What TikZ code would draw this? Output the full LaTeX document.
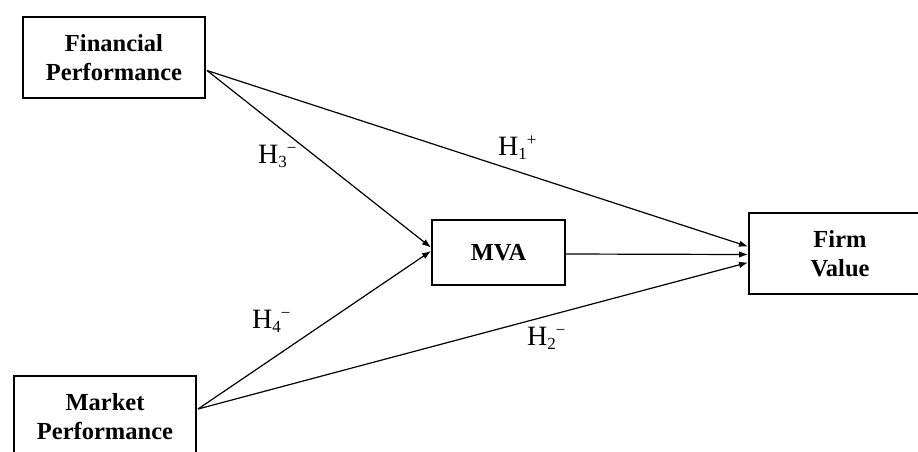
\documentclass[tikz,border=0pt]{standalone}
\usepackage{fontspec}
\setmainfont{Liberation Serif}
\usetikzlibrary{arrows.meta,calc}
\newcommand{\hyp}[2]{H{\fontsize{17}{17}\selectfont\raisebox{-4pt}{#1}\raisebox{10pt}{#2}}}
\begin{document}
\begin{tikzpicture}[x=1pt,y=-1pt,
  box/.style={draw,line width=2pt,align=center,font=\fontsize{24.5}{29}\selectfont\bfseries,inner sep=0pt},
  conn/.style={line width=1.2pt,-{Latex[length=9pt,width=6.5pt]}},
  lab/.style={anchor=base west,font=\fontsize{28}{30}\selectfont,inner sep=0pt}]
\useasboundingbox (0,0) rectangle (918,451);
\clip (0,0) rectangle (918,451);
\node[box,minimum width=182pt,minimum height=81pt] (fp) at (114,57.5) {Financial\\Performance};
\node[box,minimum width=182pt,minimum height=82pt] (mp) at (105,417) {Market\\Performance};
\node[box,minimum width=133pt,minimum height=65pt] (mva) at (498.5,252.5) {MVA};
\node[box,minimum width=182pt,minimum height=81pt] (fv) at (840,253.5) {Firm\\Value};
\coordinate (fpo) at ($(fp.east)+(1,13)$);
\coordinate (mpo) at ($(mp.east)+(1,-8)$);
\coordinate (mvao) at ($(mva.east)+(0,1.5)$);
\coordinate (mvai1) at ($(mva.west)+(0,-5)$);
\coordinate (mvai2) at ($(mva.west)+(0,-1.5)$);
\coordinate (fvi1) at ($(fv.west)+(0,-7)$);
\coordinate (fvi2) at ($(fv.west)+(0,1)$);
\coordinate (fvi3) at ($(fv.west)+(0,9)$);
\draw[conn] (fpo) -- (fvi1);
\draw[conn] (fpo) -- (mvai1);
\draw[conn] (mpo) -- (mvai2);
\draw[conn] (mpo) -- (fvi3);
\draw[conn] (mvao) -- (fvi2);
\node[lab] (h1) at (498,155) {\hyp{1}{+}};
\node[lab] (h3) at (258,163) {\hyp{3}{−}};
\node[lab] (h4) at (252,328) {\hyp{4}{−}};
\node[lab] (h2) at (527,345) {\hyp{2}{−}};
\end{tikzpicture}
\end{document}
